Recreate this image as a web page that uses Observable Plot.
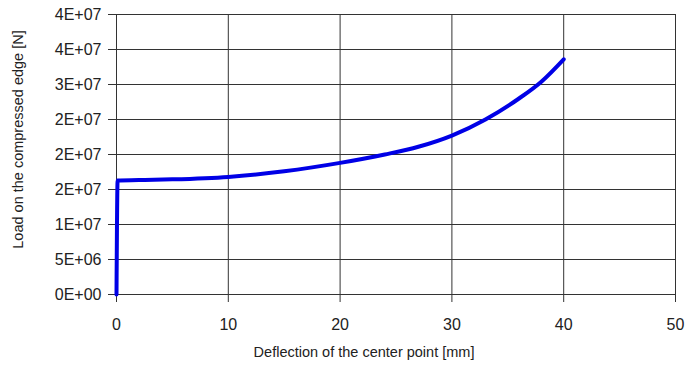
<!DOCTYPE html>
<html><head><meta charset="utf-8">
<script src="https://cdn.jsdelivr.net/npm/d3@7"></script>
<script src="https://cdn.jsdelivr.net/npm/@observablehq/plot@0.6"></script>
<style>body{margin:0;background:#fff;} svg{font-family:"Liberation Sans",Arial,sans-serif;}</style>
</head><body><div id="chart"></div>
<script>
const deflection = [0, 0.1, 2, 5, 10, 15, 20, 24, 27, 30, 33, 36, 38, 40];
const load = [0, 1.63e7, 1.635e7, 1.645e7, 1.68e7, 1.76e7, 1.88e7, 2.0e7, 2.11e7, 2.27e7, 2.5e7, 2.8e7, 3.04e7, 3.36e7];
const yTicks = [0, 5e6, 1e7, 1.5e7, 2e7, 2.5e7, 3e7, 3.5e7, 4e7];
const yTickLabels = ["0E+00", "5E+06", "1E+07", "2E+07", "2E+07", "2E+07", "3E+07", "4E+07", "4E+07"];
const xTicks = [0, 10, 20, 30, 40, 50];
const xTitle = "Deflection of the center point [mm]";
const yTitle = "Load on the compressed edge [N]";

const data = deflection.map((d, i) => ({x: d, y: load[i]}));
const chart = Plot.plot({
  width: 685, height: 366,
  marginLeft: 116, marginRight: 10, marginTop: 14, marginBottom: 72,
  style: {fontSize: "16px", fontFamily: "Liberation Sans, Arial, sans-serif", color: "#222"},
  x: {domain: [0, 50], ticks: xTicks, label: null},
  y: {domain: [0, 4e7], ticks: yTicks, label: null},
  marks: [
    Plot.gridX(xTicks, {stroke: "#333", strokeOpacity: 1, strokeWidth: 1}),
    Plot.gridY(yTicks, {stroke: "#333", strokeOpacity: 1, strokeWidth: 1}),
    Plot.axisX({ticks: xTicks, tickSize: 8, tickPadding: 16, stroke: "#333", fontSize: 16}),
    Plot.axisY({ticks: yTicks, tickSize: 8, tickPadding: 7, tickFormat: (d) => yTickLabels[yTicks.indexOf(d)], stroke: "#333", fontSize: 16}),
    Plot.ruleX([0], {stroke: "#333"}),
    Plot.ruleY([0], {stroke: "#333"}),
    Plot.line(data, {x: "x", y: "y", stroke: "#0000e6", strokeWidth: 4, strokeLinejoin: "round", curve: "monotone-x"}),
    Plot.text([xTitle], {frameAnchor: "bottom", dy: 62, dx: -32, fontSize: 14.5, fill: "#222"}),
    Plot.text([yTitle], {frameAnchor: "left", dx: -98, dy: -15, rotate: -90, textAnchor: "middle", fontSize: 14.5, fill: "#222"})
  ]
});
document.getElementById("chart").appendChild(chart);
</script></body></html>
